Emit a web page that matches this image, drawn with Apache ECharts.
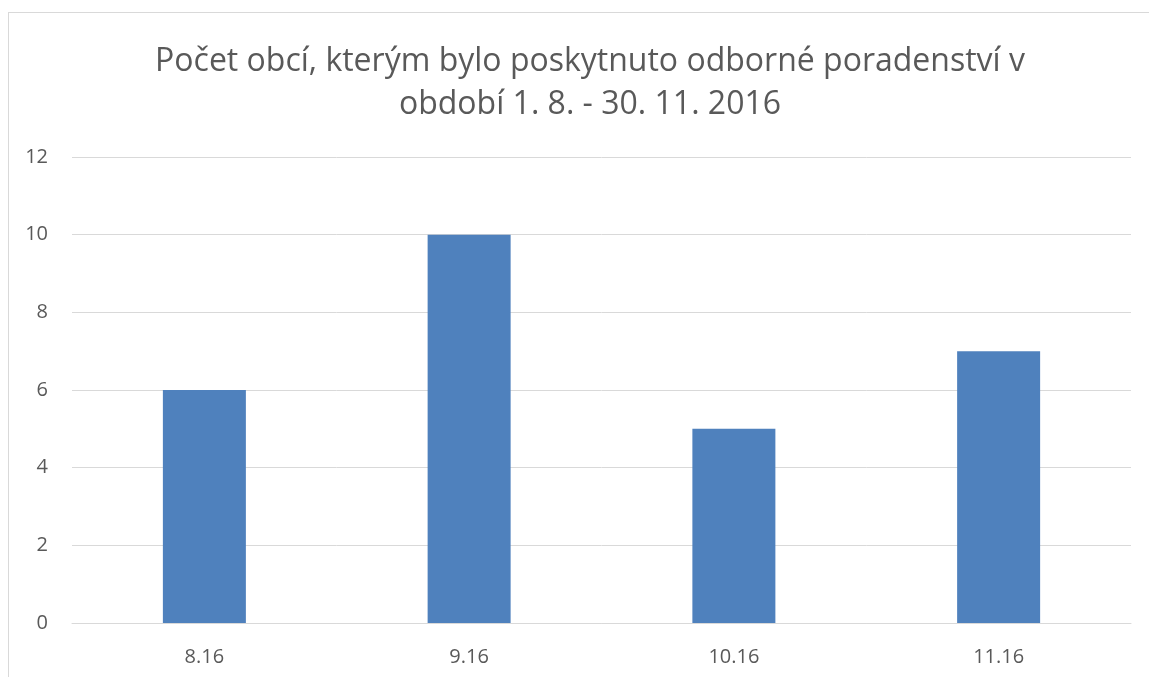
<!DOCTYPE html>
<html>
<head>
<meta charset="utf-8">
<script src="https://cdn.jsdelivr.net/npm/echarts@6/dist/echarts.min.js"></script>
<style>
  html, body { margin: 0; padding: 0; background: #fff; overflow: hidden; }
  #frame { position: absolute; left: 8px; top: 12px; width: 1200px; height: 720px; border: 1px solid #d9d9d9; }
  #chart { position: absolute; left: 0; top: 0; width: 1149px; height: 677px; }
</style>
</head>
<body>
<div id="frame"></div>
<div id="chart"></div>
<script>
// data
const months = ['8.16', '9.16', '10.16', '11.16']
const counts = [6, 10, 5, 7]
const titleText = 'Počet obcí, kterým bylo poskytnuto odborné poradenství v\nobdobí 1. 8. - 30. 11. 2016'

const chart = echarts.init(document.getElementById('chart'))

chart.setOption({
  animation: false,
  title: {
    text: titleText,
    left: 585,
    top: 35,
    textAlign: 'center',
    textStyle: {
      fontFamily: 'Open Sans',
      fontWeight: 'normal',
      fontSize: 32,
      color: '#595959',
      lineHeight: 43
    }
  },
  grid: {
    left: 72,
    right: 18,
    top: 157,
    bottom: 54
  },
  xAxis: {
    type: 'category',
    data: months,
    axisLine: { lineStyle: { color: '#d9d9d9', width: 1 } },
    axisTick: { show: false },
    axisLabel: { color: '#595959', fontSize: 20, fontFamily: 'Open Sans', margin: 24 }
  },
  yAxis: {
    type: 'value',
    min: 0,
    max: 12,
    interval: 2,
    axisLine: { show: false },
    axisTick: { show: false },
    axisLabel: { color: '#595959', fontSize: 20, fontFamily: 'Open Sans', margin: 24 },
    splitLine: { lineStyle: { color: '#d9d9d9', width: 1 } }
  },
  series: [
    {
      type: 'bar',
      data: counts,
      barWidth: 83,
      itemStyle: { color: '#4f81bd' }
    }
  ]
})
</script>
</body>
</html>
